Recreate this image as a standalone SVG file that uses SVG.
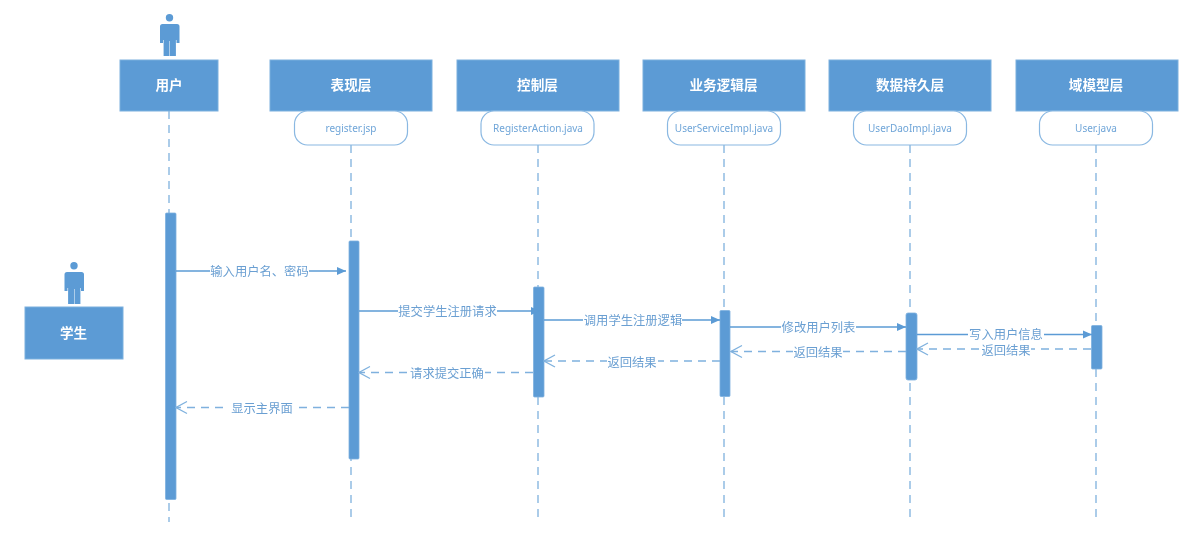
<svg xmlns="http://www.w3.org/2000/svg" width="1190" height="538" viewBox="0 0 1190 538">
<style>
text{font-family:"Noto Sans CJK SC","Noto Sans",sans-serif;text-anchor:middle}
.box{fill:#5b9bd5;stroke:#7db0de;stroke-width:1}
.hd{fill:#fff;font-size:13.6px;font-weight:700}
.pill{fill:#fff;stroke:#8ab8e2;stroke-width:1.2}
.file{fill:#6fa5d8;font-size:10px;font-family:"Noto Sans","Liberation Sans",sans-serif}
.life{stroke:#7fb1de;stroke-width:1.3;stroke-dasharray:8 6;fill:none}
.act{fill:#5b9bd5;stroke:#7db0de;stroke-width:.8}
.msg{stroke:#5b9bd5;stroke-width:1.3;fill:none}
.ret{stroke:#7fb1de;stroke-width:1.3;stroke-dasharray:8 6;fill:none}
.lab{fill:#6a9fd2;font-size:12.3px}
.bg{fill:#fff}
.person{fill:#5b9bd5}
svg>g{filter:url(#soft)}
</style>
<defs>
<filter id="soft" filterUnits="userSpaceOnUse" x="0" y="0" width="1190" height="538"><feGaussianBlur stdDeviation="0.45"/></filter>
<marker id="solid" markerUnits="userSpaceOnUse" markerWidth="10" markerHeight="10" refX="9" refY="5" orient="auto"><path d="M0 1L9 5L0 9Z" fill="#5b9bd5"/></marker>
<marker id="open" markerUnits="userSpaceOnUse" markerWidth="13" markerHeight="14" refX="12" refY="7" orient="auto"><path d="M1 1L12 7L1 13" fill="none" stroke="#7fb1de" stroke-width="1.2"/></marker>
<path id="man" d="M-3.700 3.700a3.700 3.700 0 1 0 7.400 0a3.700 3.700 0 1 0 -7.400 0ZM-7.500 10h15q2.500 0 2.500 2.500v16.500h-3v-3h-.6v16h-5.900v-15h-.5v15h-5.900v-16h-.6v3h-3v-16.500q0-2.500 2.500-2.500Z"/>
</defs>
<g id="lifelines">
<path class="life" d="M169 111V522"/>
<path class="life" d="M351 145V522"/>
<path class="life" d="M538 145V522"/>
<path class="life" d="M724 145V522"/>
<path class="life" d="M910 145V522"/>
<path class="life" d="M1096 145V522"/>
</g>
<g id="node-user"><use href="#man" class="person" x="169.500" y="14"/><rect class="box" x="120" y="60" width="98" height="51"/><text class="hd" x="169" y="90">用户</text></g>
<g id="node-student"><use href="#man" class="person" x="74" y="262"/><rect class="box" x="25" y="307" width="98" height="52"/><text class="hd" x="73.500" y="338">学生</text></g>
<g id="node-view"><rect class="box" x="270" y="60" width="162" height="51"/><text class="hd" x="351" y="90">表现层</text><rect class="pill" x="294.500" y="111" width="113" height="34" rx="13"/><text class="file" x="351" y="132">register.jsp</text></g>
<g id="node-control"><rect class="box" x="457" y="60" width="162" height="51"/><text class="hd" x="537.500" y="90">控制层</text><rect class="pill" x="481" y="111" width="113" height="34" rx="13"/><text class="file" x="538" y="132">RegisterAction.java</text></g>
<g id="node-service"><rect class="box" x="643" y="60" width="162" height="51"/><text class="hd" x="723.500" y="90">业务逻辑层</text><rect class="pill" x="667.500" y="111" width="113" height="34" rx="13"/><text class="file" x="724" y="132">UserServiceImpl.java</text></g>
<g id="node-dao"><rect class="box" x="829" y="60" width="162" height="51"/><text class="hd" x="910" y="90">数据持久层</text><rect class="pill" x="853.500" y="111" width="113" height="34" rx="13"/><text class="file" x="910" y="132">UserDaoImpl.java</text></g>
<g id="node-domain"><rect class="box" x="1016" y="60" width="162" height="51"/><text class="hd" x="1096" y="90">域模型层</text><rect class="pill" x="1039.500" y="111" width="113" height="34" rx="13"/><text class="file" x="1096" y="132">User.java</text></g>
<g id="activations">
<rect class="act" x="165.500" y="213" width="10.500" height="286.500" rx="1"/>
<rect class="act" x="349" y="241" width="10" height="218" rx="1"/>
<rect class="act" x="533.500" y="287" width="10.500" height="110" rx="1"/>
<rect class="act" x="720" y="310.500" width="10" height="86" rx="1"/>
<rect class="act" x="906" y="313" width="11" height="67" rx="2"/>
<rect class="act" x="1091.500" y="325.500" width="10.500" height="43.500" rx="1"/>
</g>
<g id="connectors">
<path class="msg" d="M176 271H346" marker-end="url(#solid)"/>
<path class="msg" d="M359 311H540" marker-end="url(#solid)"/>
<path class="msg" d="M544 320H720" marker-end="url(#solid)"/>
<path class="msg" d="M730 327H906" marker-end="url(#solid)"/>
<path class="msg" d="M917 334.500H1092" marker-end="url(#solid)"/>
<path class="ret" d="M1091 349H917" marker-end="url(#open)"/>
<path class="ret" d="M906 351.500H731" marker-end="url(#open)"/>
<path class="ret" d="M720 361H544" marker-end="url(#open)"/>
<path class="ret" d="M533 372.500H359" marker-end="url(#open)"/>
<path class="ret" d="M349 407.500H176" marker-end="url(#open)"/>
</g>
<g id="labels">
<rect class="bg" x="210" y="263" width="99" height="16"/><text class="lab" x="259.500" y="275.500">输入用户名、密码</text>
<rect class="bg" x="398" y="303" width="99" height="16"/><text class="lab" x="447.500" y="315.500">提交学生注册请求</text>
<rect class="bg" x="583" y="312" width="99" height="16"/><text class="lab" x="633" y="324.500">调用学生注册逻辑</text>
<rect class="bg" x="781" y="319" width="75" height="16"/><text class="lab" x="818.500" y="331.500">修改用户列表</text>
<rect class="bg" x="968" y="326" width="76" height="16"/><text class="lab" x="1006" y="338.500">写入用户信息</text>
<rect class="bg" x="981" y="342" width="50" height="15"/><text class="lab" x="1006" y="354.500">返回结果</text>
<rect class="bg" x="793" y="344" width="50" height="15"/><text class="lab" x="818" y="356.500">返回结果</text>
<rect class="bg" x="607" y="354" width="51" height="15"/><text class="lab" x="632" y="366.500">返回结果</text>
<rect class="bg" x="409" y="365" width="76" height="15"/><text class="lab" x="447" y="377.500">请求提交正确</text>
<rect class="bg" x="226" y="400" width="73" height="15"/><text class="lab" x="262" y="412.500">显示主界面</text>
</g>
</svg>
